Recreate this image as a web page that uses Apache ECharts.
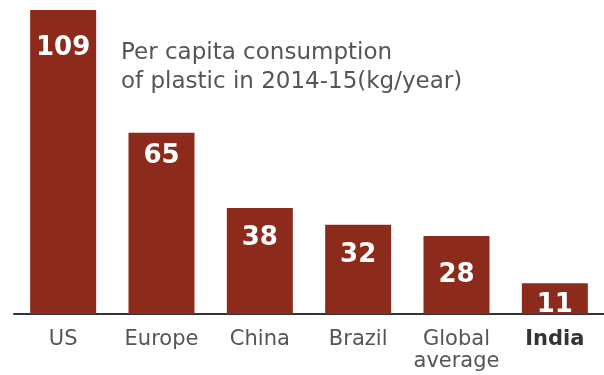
<!DOCTYPE html>
<html><head><meta charset="utf-8">
<script src="https://cdn.jsdelivr.net/npm/echarts@6/dist/echarts.min.js"></script>
<style>html,body{margin:0;padding:0;background:#fff}#c{width:604px;height:375px}</style>
</head><body><div id="c"></div>
<script>
const categories = ['US', 'Europe', 'China', 'Brazil', 'Global\naverage', 'India'];
const values = [109, 65, 38, 32, 28, 11];
const titleText = 'Per capita consumption\nof plastic in 2014-15(kg/year)';
const labelDist = [25, 11, 17, 17, 26, 9];

const chart = echarts.init(document.getElementById('c'));
const FONT = 'DejaVu Sans';
chart.setOption({
  animation: false,
  backgroundColor: '#fff',
  graphic: [{
    type: 'text', left: 121, top: 39,
    style: { text: titleText, fill: '#555', font: '23px "' + FONT + '"', lineHeight: 29 }
  }],
  grid: { left: 14, right: 0, top: 10, bottom: 61, containLabel: false },
  xAxis: {
    type: 'category', data: categories,
    axisLine: { lineStyle: { color: '#333', width: 2 } },
    axisTick: { show: false },
    axisLabel: {
      interval: 0,
      color: '#555', fontFamily: FONT, fontSize: 21, margin: 15, lineHeight: 22,
      formatter: v => v === 'India' ? '{b|' + v + '}' : v,
      rich: { b: { fontWeight: 'bold', color: '#333', fontFamily: FONT, fontSize: 21 } }
    }
  },
  yAxis: { type: 'value', min: 0, max: 109, show: false, splitLine: { show: false } },
  series: [{
    type: 'bar', barWidth: 66,
    itemStyle: { color: '#8c2a1c' },
    data: values.map((v, i) => ({
      value: v,
      label: { show: true, position: 'insideTop', distance: labelDist[i], color: '#fff',
        fontFamily: FONT, fontWeight: 'bold', fontSize: 26 }
    }))
  }]
});
</script></body></html>
